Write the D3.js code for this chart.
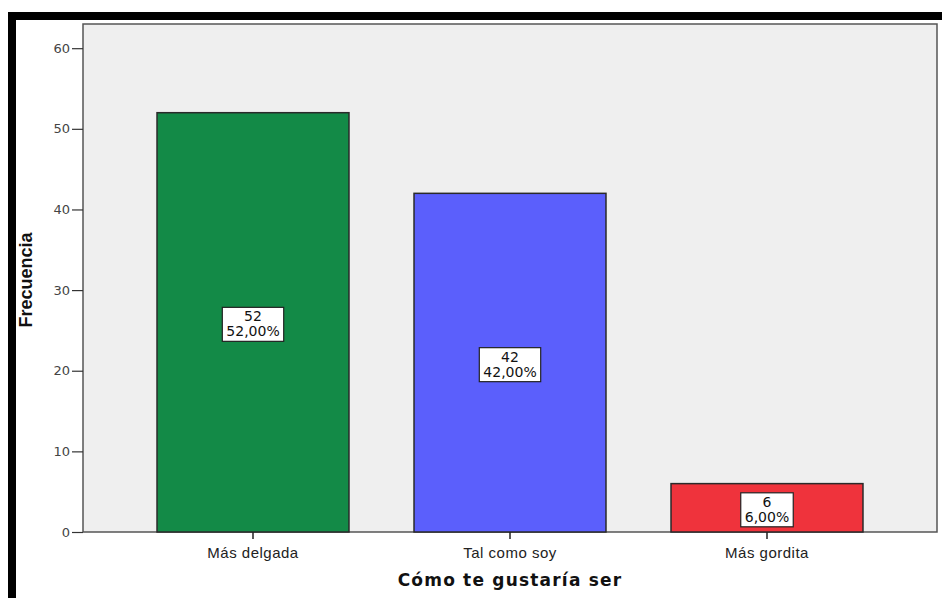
<!DOCTYPE html>
<html>
<head>
<meta charset="utf-8">
<script src="https://cdn.jsdelivr.net/npm/d3@7"></script>
<style>
  html, body { margin: 0; padding: 0; background: #fff; }
  svg { display: block; }
</style>
</head>
<body>
<svg id="chart" width="942" height="598"></svg>
<script>
// Frecuencias por respuesta
const categories = ["Más delgada", "Tal como soy", "Más gordita"];
const counts = [52, 42, 6];
const percents = ["52,00%", "42,00%", "6,00%"];
const barColors = ["#138a47", "#5b5ffc", "#ef333c"];
const yTicks = [0, 10, 20, 30, 40, 50, 60];

const svg = d3.select("#chart");
const W = 942, H = 598;
const plot = { left: 83, right: 937, top: 24, bottom: 532 };

// frame
svg.append("rect").attr("x", 8).attr("y", 12).attr("width", W - 8).attr("height", 8).attr("fill", "#000");
svg.append("rect").attr("x", 8).attr("y", 12).attr("width", 8).attr("height", H - 12).attr("fill", "#000");

const x = d3.scaleBand()
  .domain(categories)
  .range([plot.left, plot.right])
  .paddingInner(0.253)
  .paddingOuter(0.288);

const y = d3.scaleLinear().domain([0, 63]).range([plot.bottom, plot.top]);

// plot background
svg.append("rect")
  .attr("x", plot.left).attr("y", plot.top)
  .attr("width", plot.right - plot.left).attr("height", plot.bottom - plot.top)
  .attr("fill", "#efefef").attr("stroke", "#555").attr("stroke-width", 1.5);

// bars
svg.append("g").selectAll("rect")
  .data(categories)
  .join("rect")
  .attr("x", d => x(d))
  .attr("y", (d, i) => y(counts[i]))
  .attr("width", x.bandwidth())
  .attr("height", (d, i) => y(0) - y(counts[i]))
  .attr("fill", (d, i) => barColors[i])
  .attr("stroke", "#2a2a2a")
  .attr("stroke-width", 1.5);

// y axis
const yAxis = svg.append("g")
  .attr("transform", `translate(${plot.left},0)`)
  .call(d3.axisLeft(y).tickValues(yTicks).tickSize(11).tickPadding(2));
yAxis.select(".domain").remove();
yAxis.selectAll(".tick line").attr("stroke", "#333").attr("stroke-width", 1.2);
yAxis.selectAll(".tick text")
  .attr("font-family", "DejaVu Sans, sans-serif").attr("font-size", 13).attr("fill", "#444");

// x axis
const xAxis = svg.append("g")
  .attr("transform", `translate(0,${plot.bottom})`)
  .call(d3.axisBottom(x).tickSize(7).tickPadding(8));
xAxis.select(".domain").remove();
xAxis.selectAll(".tick line").attr("stroke", "#222").attr("stroke-width", 1.5);
xAxis.selectAll(".tick text")
  .attr("font-family", "Liberation Sans, Arial, sans-serif").attr("font-size", 15)
  .attr("letter-spacing", 0.5).attr("fill", "#222");

// value labels: count over percentage in a white box
const labels = svg.append("g").selectAll("g")
  .data(categories)
  .join("g")
  .attr("transform", (d, i) => `translate(${x(d) + x.bandwidth() / 2},${y(counts[i] / 2) + 2})`);

labels.each(function (d, i) {
  const g = d3.select(this);
  const lines = [String(counts[i]), percents[i]];
  const texts = g.selectAll("text")
    .data(lines)
    .join("text")
    .attr("x", 0)
    .attr("y", (t, k) => k === 0 ? -3 : 12)
    .attr("text-anchor", "middle")
    .attr("font-family", "DejaVu Sans, sans-serif")
    .attr("font-size", 14)
    .attr("fill", "#111")
    .text(t => t);
  const w = d3.max(texts.nodes(), n => n.getBBox().width);
  g.insert("rect", "text")
    .attr("x", -w / 2 - 4).attr("y", -17)
    .attr("width", w + 8).attr("height", 34)
    .attr("fill", "#fff").attr("stroke", "#222").attr("stroke-width", 1.2);
});

// axis titles
svg.append("text")
  .attr("x", (plot.left + plot.right) / 2).attr("y", 586)
  .attr("text-anchor", "middle")
  .attr("font-family", "DejaVu Sans, sans-serif").attr("font-weight", "bold")
  .attr("font-size", 17).attr("letter-spacing", 1.2).attr("fill", "#111")
  .text("Cómo te gustaría ser");

svg.append("text")
  .attr("transform", `translate(32,280) rotate(-90)`)
  .attr("text-anchor", "middle")
  .attr("font-family", "Liberation Sans Narrow, Liberation Sans, Arial, sans-serif").attr("font-weight", "bold")
  .attr("font-size", 18).attr("fill", "#111")
  .text("Frecuencia");
</script>
</body>
</html>
